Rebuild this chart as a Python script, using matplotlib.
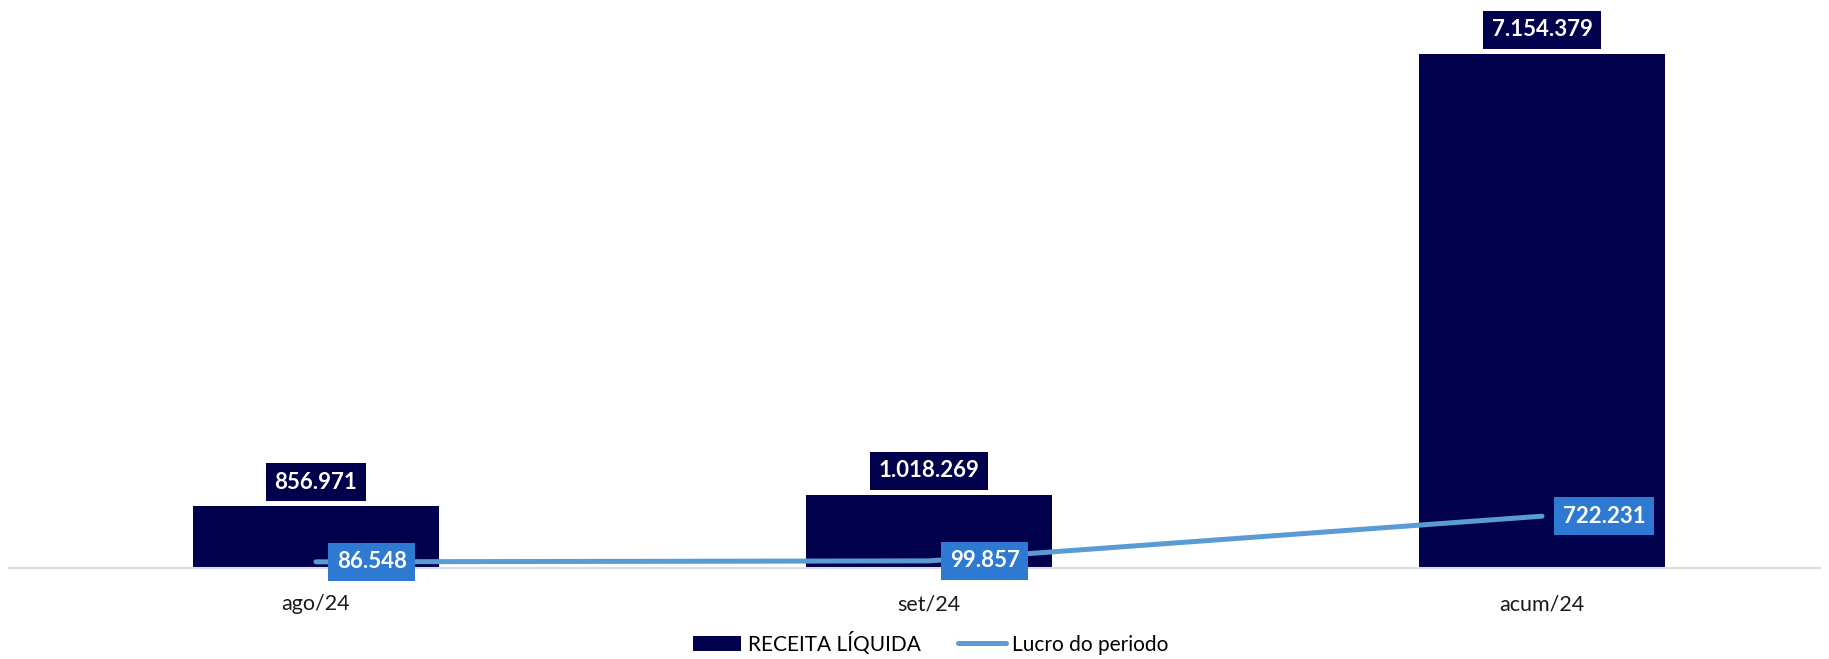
import matplotlib.pyplot as plt
import numpy as np

categorias = ['ago/24', 'set/24', 'acum/24']
receita_liquida = [856971, 1018269, 7154379]
lucro_periodo = [86548, 99857, 722231]


def fmt_br(v):
    # separador de milhar com ponto
    return f'{v:,.0f}'.replace(',', '.')


plt.rcParams['font.family'] = ['Lato', 'DejaVu Sans']

cor_barra = '#00004D'
cor_linha = '#5B9BD5'
cor_rotulo_linha = '#2E79D2'

fig = plt.figure(figsize=(18.29, 6.59), dpi=100)
ax = fig.add_axes([0.0049, 0.138, 0.9902, 0.847])

x = np.arange(len(categorias))
barras = ax.bar(x, receita_liquida, width=0.40, color=cor_barra,
                label='RECEITA LÍQUIDA', zorder=2)
linha, = ax.plot(x, lucro_periodo, color=cor_linha, linewidth=3.6,
                 solid_capstyle='round', label='Lucro do periodo', zorder=3)

for xi, v in zip(x, receita_liquida):
    ax.annotate(fmt_br(v), (xi, v), xytext=(0, 17.5), textcoords='offset points',
                ha='center', va='center', fontsize=16, fontweight='bold', color='white',
                bbox=dict(boxstyle='square,pad=0.38', fc=cor_barra, ec='none'), zorder=4)

for xi, v in zip(x, lucro_periodo):
    ax.annotate(fmt_br(v), (xi, v), xytext=(15, 0), textcoords='offset points',
                ha='left', va='center', fontsize=16, fontweight='bold', color='white',
                bbox=dict(boxstyle='square,pad=0.38', fc=cor_rotulo_linha, ec='none'), zorder=5)

ax.set_xlim(-0.5008, 2.4535)
ax.set_ylim(0, 7.77e6)
ax.set_xticks(x)
ax.set_xticklabels(categorias, fontsize=15.5, color='#1a1a1a')
ax.tick_params(axis='x', length=0, pad=19)
ax.set_yticks([])
for s in ['top', 'right', 'left']:
    ax.spines[s].set_visible(False)
ax.spines['bottom'].set_color('#D9DEE6')
ax.spines['bottom'].set_linewidth(1.5)

fig.legend([barras, linha], ['RECEITA LÍQUIDA', 'Lucro do periodo'],
           loc='lower center', bbox_to_anchor=(0.509, -0.022), ncol=2, frameon=False,
           fontsize=15, handlelength=2.3, handletextpad=0.3, columnspacing=1.8)

plt.savefig('out.png', dpi=100)
